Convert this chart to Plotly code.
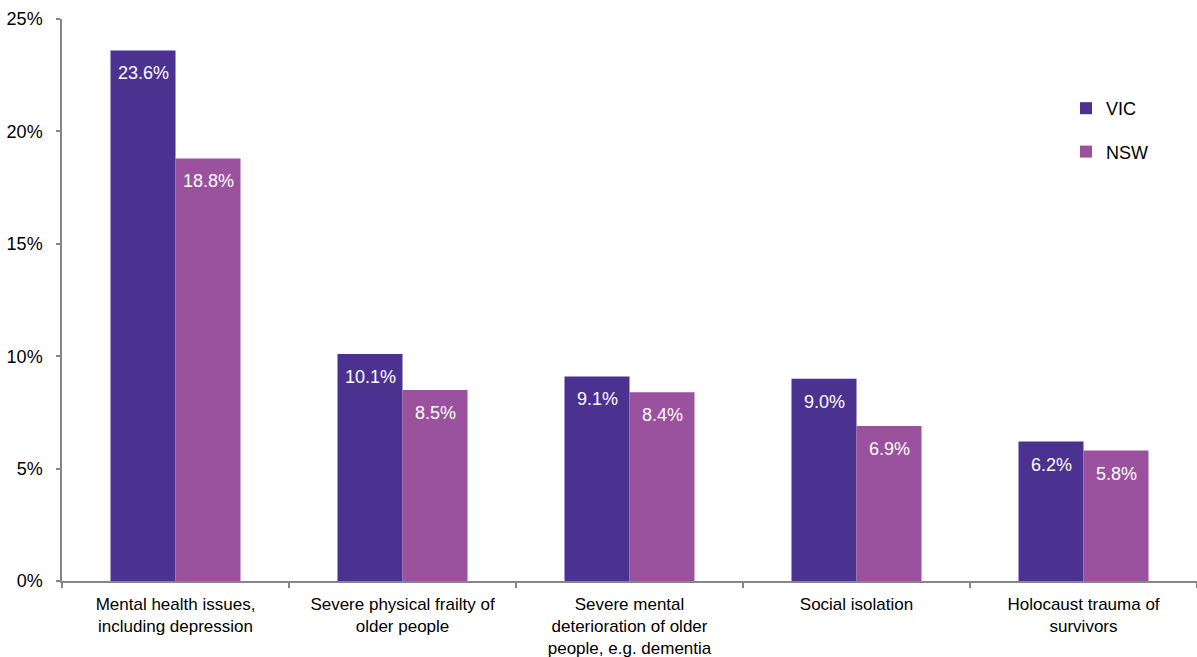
import plotly.graph_objects as go

categories = [
    "Mental health issues,<br>including depression",
    "Severe physical frailty of<br>older people",
    "Severe mental<br>deterioration of older<br>people, e.g. dementia",
    "Social isolation",
    "Holocaust trauma of<br>survivors",
]
vic = [23.6, 10.1, 9.1, 9.0, 6.2]
nsw = [18.8, 8.5, 8.4, 6.9, 5.8]
y_ticks = [0, 5, 10, 15, 20, 25]
y_tick_labels = ["0%", "5%", "10%", "15%", "20%", "25%"]

VIC_COLOR = "#4B3190"
NSW_COLOR = "#9A519E"
FONT = "Liberation Sans, Arial, sans-serif"
FS = 18

L, R, T, B = 62, 0, 19, 76
W, H = 1197, 657
plot_w = W - L - R
cat_w = plot_w / len(categories)
bar_w = 65

fig = go.Figure()
series = [("VIC", vic, VIC_COLOR, -bar_w / 2), ("NSW", nsw, NSW_COLOR, bar_w / 2)]
for name, vals, col, _ in series:
    fig.add_trace(go.Bar(
        x=categories, y=vals, name=name, legendgroup=name,
        marker=dict(color=col, line=dict(width=0)),
        hoverinfo="skip",
    ))

annotations = []
for name, vals, col, shift in series:
    for c, v in zip(categories, vals):
        annotations.append(dict(
            x=c, y=v, xref="x", yref="y", text=f"{v:.1f}%",
            showarrow=False, xshift=shift, yshift=-23, yanchor="middle",
            font=dict(color="white", size=FS, family=FONT),
        ))

fig.update_layout(
    width=W, height=H,
    margin=dict(l=L, r=R, t=T, b=B),
    paper_bgcolor="white", plot_bgcolor="white",
    barmode="group", bargap=1 - 2 * bar_w / cat_w, bargroupgap=0,
    font=dict(family=FONT, size=FS, color="#000000"),
    showlegend=True,
    legend=dict(x=(1066 - L) / plot_w, y=(581 - 90) / (581 - T),
                xanchor="left", yanchor="top",
                font=dict(size=FS, family=FONT),
                tracegroupgap=17, itemwidth=30, bgcolor="rgba(0,0,0,0)"),
    annotations=annotations,
)

fig.update_yaxes(
    range=[0, 25], tickvals=y_ticks, ticktext=y_tick_labels,
    showgrid=False, zeroline=False,
    showline=True, linecolor="#868686", linewidth=1.5,
    ticks="outside", ticklen=4, tickcolor="#868686", tickwidth=1.5,
    tickfont=dict(size=FS, family=FONT, color="#000000"),
    ticklabelstandoff=10, automargin=False,
)
fig.update_xaxes(
    showgrid=False, showline=True, linecolor="#868686", linewidth=1.5,
    ticks="outside", tickson="boundaries", ticklen=5, tickcolor="#868686", tickwidth=1.5,
    tickfont=dict(size=17, family=FONT, color="#000000"),
    tickangle=0, ticklabelstandoff=7, automargin=False,
)

fig.write_html("out.html", config={"displayModeBar": False},
               post_script="document.body.style.margin='0';document.body.style.overflow='hidden';")
